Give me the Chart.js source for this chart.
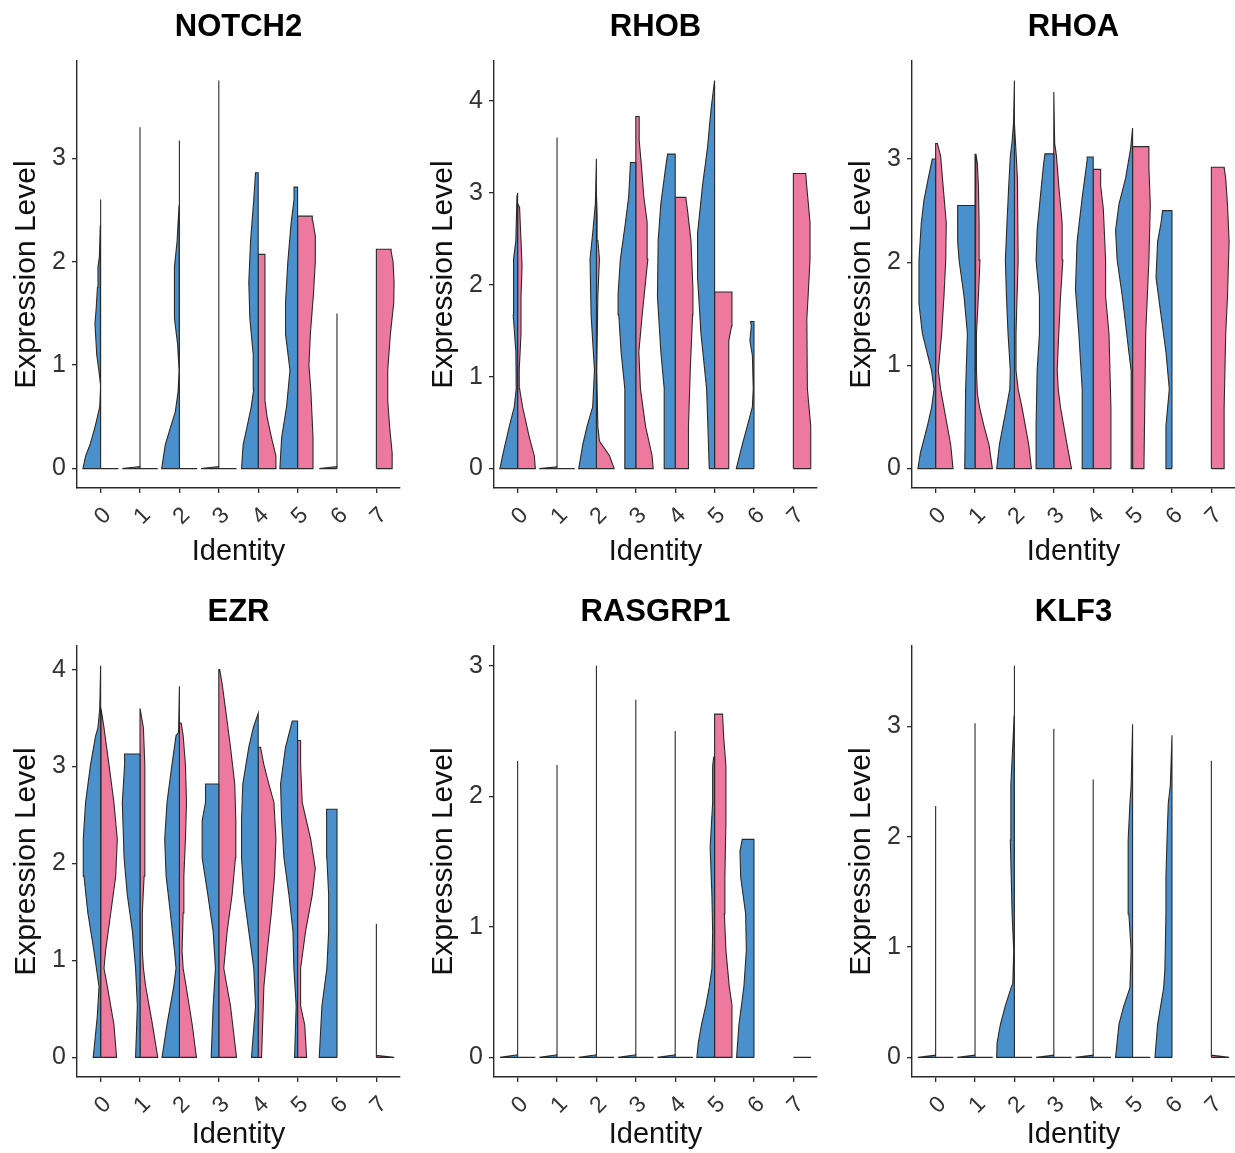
<!DOCTYPE html>
<html>
<head>
<meta charset="utf-8">
<script src="https://cdn.jsdelivr.net/npm/chart.js@4.4.1/dist/chart.umd.min.js"></script>
<style>
  body { margin: 0; background: #fff; width: 1235px; height: 1153px; overflow: hidden; position: relative; }
  canvas { position: absolute; }
</style>
</head>
<body>
<script>
const genes = ["NOTCH2", "RHOB", "RHOA", "EZR", "RASGRP1", "KLF3"];
const identities = ["0", "1", "2", "3", "4", "5", "6", "7"];

// each half violin: [expression level, relative density width]; null = no cells
const notch2Blue = [
  [[0,1],[0.12,0.85],[0.23,0.6],[0.4,0.32],[0.5,0.18],[0.6,0.05],[0.8,0],[0.95,0.1],[1.1,0.22],[1.4,0.32],[1.55,0.25],[1.75,0.18],[1.95,0.15],[2.05,0.07],[2.35,0.02],[2.6,0]],
  [[0,1],[0.02,0],[3.3,0]],
  [[0,1],[0.23,0.8],[0.4,0.5],[0.55,0.23],[0.75,0.07],[0.95,0.02],[1.2,0.1],[1.45,0.28],[1.95,0.28],[2.2,0.13],[2.55,0.02],[3.17,0]],
  [[0,1],[0.02,0],[3.75,0]],
  [[0,0.94],[0.23,0.85],[0.41,0.62],[0.59,0.4],[0.77,0.25],[1.1,0.28],[1.45,0.47],[1.8,0.53],[2.2,0.43],[2.6,0.25],[2.86,0.15]],
  [[0,1],[0.3,0.9],[0.6,0.62],[0.95,0.43],[1.3,0.68],[1.6,0.68],[2.0,0.55],[2.38,0.36],[2.6,0.2],[2.72,0.2]],
  [[0,1],[0.02,0],[1.5,0]],
  null
];
const notch2Pink = [
  [[0,1]],
  [[0,1]],
  [[0,1]],
  [[0,1]],
  [[0,1],[0.12,1],[0.3,0.75],[0.5,0.5],[0.66,0.38],[2.07,0.38]],
  [[0,0.87],[0.3,0.87],[0.75,0.75],[1.0,0.64],[1.3,0.72],[1.7,0.9],[2.0,1.0],[2.25,1.0],[2.4,0.85],[2.44,0.83]],
  null,
  [[0,0.89],[0.15,0.89],[0.4,0.75],[0.66,0.64],[0.95,0.64],[1.3,0.79],[1.6,0.98],[1.8,1.0],[2.0,0.94],[2.1,0.83],[2.12,0.83]]
];

const rhobBlue = [
  [[0,1],[0.14,0.85],[0.46,0.47],[0.67,0.19],[0.87,0.08],[1.27,0.1],[1.67,0.25],[2.28,0.23],[2.48,0.1],[2.96,0.04],[3.0,0]],
  [[0,1],[0.02,0],[3.6,0]],
  [[0,1],[0.26,0.77],[0.46,0.53],[0.67,0.21],[1.07,0.11],[1.67,0.3],[2.28,0.36],[2.56,0.21],[2.88,0.06],[3.37,0]],
  [[0,0.62],[0.87,0.62],[1.27,0.83],[1.67,0.96],[1.9,1.0],[2.28,0.87],[2.68,0.58],[2.96,0.4],[3.33,0.3]],
  [[0,0.58],[0.87,0.62],[1.27,0.81],[1.87,1.0],[2.48,0.96],[2.88,0.81],[3.29,0.53],[3.42,0.43]],
  [[0,0.3],[0.87,0.45],[1.47,0.77],[2.08,0.96],[2.56,0.96],[3.08,0.68],[3.49,0.4],[3.89,0.21],[4.05,0.11],[4.22,0]],
  [[0,1],[0.26,0.66],[0.46,0.38],[0.67,0.09],[0.87,0.04],[1.23,0.09],[1.39,0.23],[1.55,0.15],[1.6,0.19]],
  null
];
const rhobPink = [
  [[0,1],[0.14,0.94],[0.34,0.66],[0.67,0.28],[0.87,0.11],[1.07,0.09],[1.47,0.19],[1.87,0.19],[2.2,0.25],[2.48,0.19],[2.84,0.11],[2.88,0]],
  [[0,1]],
  [[0,1],[0.14,0.74],[0.3,0.17],[0.46,0.08],[1.07,0.02],[1.87,0.08],[2.28,0.17],[2.48,0.08],[2.76,0.04],[3.0,0]],
  [[0,0.98],[0.14,0.92],[0.46,0.55],[0.87,0.26],[1.27,0.17],[1.67,0.36],[2.28,0.68],[2.68,0.64],[2.96,0.45],[3.29,0.32],[3.57,0.19],[3.83,0.19]],
  [[0,0.75],[0.46,0.75],[1.07,0.85],[1.67,0.98],[1.96,1.0],[2.48,0.89],[2.8,0.7],[2.95,0.6]],
  [[0,0.77],[1.39,0.8],[1.55,0.96],[1.92,0.98]],
  null,
  [[0,0.98],[0.46,0.98],[0.87,0.79],[1.63,0.76],[1.87,0.83],[2.28,0.94],[2.68,0.94],[3.08,0.75],[3.21,0.7]]
];

const rhoaBlue = [
  [[0,1],[0.16,0.85],[0.41,0.47],[0.59,0.23],[0.77,0.09],[0.95,0.23],[1.31,0.75],[1.6,0.94],[2.02,0.94],[2.38,0.81],[2.6,0.66],[2.81,0.42],[3.0,0.19]],
  [[0,0.58],[0.77,0.53],[1.31,0.43],[1.67,0.62],[2.02,0.9],[2.2,0.98],[2.55,0.98]],
  [[0,1],[0.23,0.85],[0.59,0.45],[0.77,0.26],[0.95,0.23],[1.31,0.36],[1.67,0.45],[2.02,0.51],[2.38,0.42],[2.74,0.32],[3.03,0.23],[3.17,0.13],[3.35,0.05],[3.76,0]],
  [[0,1],[0.41,1],[0.95,0.94],[1.31,0.81],[1.67,0.81],[2.02,1.0],[2.31,0.94],[2.74,0.7],[2.96,0.57],[3.05,0.5]],
  [[0,0.62],[0.77,0.62],[1.31,0.81],[1.74,1.0],[2.2,0.91],[2.63,0.62],[2.99,0.34],[3.02,0.34]],
  [[0,0.08],[0.95,0.08],[1.13,0.21],[1.67,0.58],[2.02,0.87],[2.31,0.96],[2.56,0.77],[2.81,0.4],[3.1,0.11],[3.3,0]],
  [[0,0.34],[0.41,0.34],[0.77,0.15],[1.13,0.34],[1.49,0.62],[1.85,0.9],[2.2,0.81],[2.38,0.62],[2.5,0.53]],
  null
];
const rhoaPink = [
  [[0,0.98],[0.23,0.85],[0.59,0.47],[0.77,0.28],[0.95,0.15],[1.31,0.34],[1.67,0.47],[2.02,0.57],[2.38,0.6],[2.74,0.42],[3.03,0.28],[3.15,0.1]],
  [[0,0.98],[0.23,0.79],[0.41,0.51],[0.59,0.26],[0.73,0.13],[0.95,0.08],[1.31,0.08],[1.67,0.19],[2.02,0.28],[2.38,0.23],[2.74,0.19],[2.96,0.13],[3.05,0.05]],
  [[0,0.96],[0.23,0.81],[0.59,0.43],[0.77,0.21],[0.95,0.09],[1.31,0.09],[1.67,0.15],[2.02,0.21],[2.81,0.17],[3.1,0.08],[3.35,0]],
  [[0,1],[0.23,0.75],[0.59,0.38],[0.77,0.25],[0.95,0.19],[1.31,0.28],[1.67,0.38],[2.02,0.51],[2.38,0.47],[2.74,0.28],[3.03,0.15],[3.15,0.05],[3.65,0]],
  [[0,1],[0.59,1],[1.31,0.89],[1.67,0.7],[2.02,0.7],[2.52,0.57],[2.74,0.42],[2.9,0.42]],
  [[0,0.64],[1.31,0.74],[2.02,0.92],[2.56,1.0],[2.92,0.92],[3.12,0.92]],
  null,
  [[0,0.72],[0.59,0.72],[1.31,0.81],[1.67,0.91],[2.2,1.0],[2.56,0.91],[2.81,0.81],[2.92,0.72]]
];

const ezrBlue = [
  [[0,0.42],[0.42,0.19],[0.73,0.09],[1.1,0.38],[1.49,0.72],[1.87,0.94],[2.25,0.98],[2.63,0.85],[3.02,0.57],[3.32,0.28],[3.4,0.15],[3.6,0.05],[4.04,0]],
  [[0,0.25],[0.53,0.15],[0.92,0.25],[1.3,0.43],[1.68,0.72],[2.06,0.9],[2.63,1.0],[3.02,0.87],[3.13,0.87]],
  [[0,0.98],[0.34,0.7],[0.73,0.32],[0.92,0.19],[1.1,0.28],[1.49,0.51],[1.87,0.75],[2.25,0.83],[2.63,0.7],[3.02,0.42],[3.32,0.19],[3.35,0.05],[3.83,0]],
  [[0,0.43],[0.53,0.32],[0.92,0.19],[1.3,0.32],[1.68,0.62],[2.06,0.94],[2.44,0.94],[2.63,0.75],[2.82,0.75]],
  [[0,0.38],[0.53,0.15],[0.92,0.25],[1.3,0.53],[1.68,0.81],[2.06,0.94],[2.44,0.94],[2.82,0.87],[3.2,0.53],[3.4,0.28],[3.55,0]],
  [[0,0.17],[0.53,0.08],[0.92,0.21],[1.3,0.26],[1.68,0.49],[2.06,0.77],[2.44,0.9],[2.82,0.96],[3.2,0.68],[3.47,0.3]],
  [[0,1],[0.53,0.85],[0.92,0.57],[1.3,0.47],[1.68,0.47],[2.06,0.57],[2.4,0.6],[2.56,0.57]],
  null
];
const ezrPink = [
  [[0,0.9],[0.34,0.75],[0.73,0.38],[0.92,0.19],[1.1,0.28],[1.49,0.57],[1.87,0.85],[2.25,0.94],[2.63,0.75],[3.02,0.47],[3.4,0.19],[3.6,0.02]],
  [[0,1],[0.34,0.7],[0.73,0.32],[0.92,0.19],[1.1,0.13],[1.49,0.13],[1.87,0.23],[2.25,0.28],[3.02,0.26],[3.4,0.19],[3.6,0]],
  [[0,0.96],[0.34,0.72],[0.73,0.38],[0.92,0.21],[1.1,0.15],[1.49,0.21],[1.87,0.25],[2.25,0.34],[2.63,0.4],[3.02,0.34],[3.32,0.21],[3.45,0.1]],
  [[0,1],[0.53,0.66],[0.92,0.28],[1.3,0.47],[1.68,0.75],[2.06,0.94],[2.44,0.96],[2.82,0.9],[3.2,0.66],[3.59,0.38],[3.85,0.19],[4.0,0.05]],
  [[0,0.19],[0.73,0.32],[1.1,0.51],[1.49,0.74],[1.87,0.92],[2.25,1.0],[2.63,0.89],[2.82,0.6],[3.02,0.32],[3.2,0.13]],
  [[0,0.51],[0.34,0.4],[0.53,0.17],[0.92,0.17],[1.3,0.45],[1.68,0.83],[1.95,1.0],[2.25,0.74],[2.63,0.26],[3.02,0.17],[3.27,0.17]],
  null,
  [[0,1],[0.02,0],[1.38,0]]
];

const rasgrp1Blue = [
  [[0,1],[0.02,0],[2.27,0]],
  [[0,1],[0.02,0],[2.24,0]],
  [[0,1],[0.02,0],[3.0,0]],
  [[0,1],[0.02,0],[2.74,0]],
  [[0,1],[0.02,0],[2.5,0]],
  [[0,1],[0.11,0.92],[0.25,0.74],[0.4,0.49],[0.54,0.3],[0.68,0.15],[0.96,0.11],[1.24,0.15],[1.61,0.25],[1.95,0.11],[2.23,0.11],[2.3,0.05]],
  [[0,0.98],[0.25,0.85],[0.54,0.57],[0.82,0.43],[1.1,0.47],[1.38,0.75],[1.58,0.79],[1.67,0.66]],
  null
];
const rasgrp1Pink = [
  [[0,1]],
  [[0,1]],
  [[0,1]],
  [[0,1]],
  [[0,1]],
  [[0,0.98],[0.4,0.98],[0.54,0.83],[0.82,0.64],[1.1,0.55],[1.38,0.58],[1.81,0.64],[2.23,0.64],[2.46,0.51],[2.63,0.45]],
  null,
  [[0,1]]
];

const klf3Blue = [
  [[0,1],[0.02,0],[2.28,0]],
  [[0,1],[0.02,0],[3.03,0]],
  [[0,1],[0.13,0.98],[0.3,0.79],[0.47,0.51],[0.63,0.19],[0.67,0.09],[0.97,0.04],[1.3,0.13],[1.97,0.23],[2.47,0.2],[2.97,0.05],[3.1,0.02],[3.55,0]],
  [[0,1],[0.02,0],[2.98,0]],
  [[0,1],[0.02,0],[2.52,0]],
  [[0,0.96],[0.3,0.77],[0.47,0.49],[0.63,0.15],[0.97,0.08],[1.3,0.21],[1.97,0.25],[2.3,0.15],[2.47,0.08],[3.02,0]],
  [[0,0.96],[0.3,0.81],[0.63,0.47],[0.8,0.4],[1.3,0.34],[1.64,0.34],[1.97,0.28],[2.3,0.21],[2.47,0.09],[2.92,0]],
  null
];
const klf3Pink = [
  [[0,1]],
  [[0,1]],
  [[0,1]],
  [[0,1]],
  [[0,1]],
  [[0,1]],
  null,
  [[0,1],[0.02,0],[2.69,0]]
];

const BLUE = "#4a90cd";
const PINK = "#ee799f";
const FONT = "'Liberation Sans', Arial, sans-serif";
const HALF = 0.45; // half-violin max width in category units

const panels = [
  { blue: notch2Blue, pink: notch2Pink, left: 0, top: 0, height: 578, xh: 90, xpad: 9 },
  { blue: rhobBlue, pink: rhobPink, left: 417, top: 0, height: 578, xh: 90, xpad: 9 },
  { blue: rhoaBlue, pink: rhoaPink, left: 835, top: 0, height: 578, xh: 90, xpad: 9 },
  { blue: ezrBlue, pink: ezrPink, left: 0, top: 585, height: 568, xh: 76, xpad: 1 },
  { blue: rasgrp1Blue, pink: rasgrp1Pink, left: 417, top: 585, height: 568, xh: 76, xpad: 1 },
  { blue: klf3Blue, pink: klf3Pink, left: 835, top: 585, height: 568, xh: 76, xpad: 1 }
];

// outline of one half: out along the density edge, back down the centre line
function halfViolin(center, side, profile) {
  const pts = [{ x: center, y: profile[0][0] }];
  profile.forEach(([y, w]) => pts.push({ x: center + side * w * HALF, y: y }));
  const top = profile[profile.length - 1][0];
  pts.push({ x: center, y: top });
  pts.push({ x: center, y: profile[0][0] });
  return pts;
}

panels.forEach((p, k) => {
  const canvas = document.createElement("canvas");
  canvas.width = 477;
  canvas.height = p.height;
  canvas.style.left = p.left + "px";
  canvas.style.top = p.top + "px";
  document.body.appendChild(canvas);

  const datasets = [];
  let ymax = 0;
  identities.forEach((id, i) => {
    [[p.blue[i], -1, BLUE], [p.pink[i], 1, PINK]].forEach(([prof, side, col]) => {
      if (!prof) return;
      prof.forEach(([y]) => { ymax = Math.max(ymax, y); });
      datasets.push({
        data: halfViolin(i, side, prof),
        showLine: true,
        fill: "shape",
        backgroundColor: col,
        borderColor: "#2a2a2a",
        borderWidth: 1.1,
        pointRadius: 0,
        tension: 0
      });
    });
  });

  const yTicks = [];
  for (let t = 0; t <= ymax * 1.05; t++) yTicks.push(t);

  new Chart(canvas, {
    type: "scatter",
    data: { datasets: datasets },
    options: {
      responsive: false,
      animation: false,
      layout: { padding: { left: 0, right: 77, top: 0, bottom: 0 } },
      plugins: {
        legend: { display: false },
        tooltip: { enabled: false },
        title: {
          display: true,
          fullSize: false,
          text: genes[k],
          color: "#000",
          font: { family: FONT, size: 31, weight: "bold" },
          padding: { top: 9, bottom: 15 }
        }
      },
      scales: {
        x: {
          type: "linear",
          min: -0.6,
          max: 7.6,
          afterBuildTicks: ax => { ax.ticks = identities.map((_, i) => ({ value: i })); },
          afterFit: ax => { ax.height = p.xh; },
          ticks: {
            callback: v => identities[v],
            minRotation: 45,
            maxRotation: 45,
            autoSkip: false,
            color: "#333",
            padding: 9,
            labelOffset: 7,
            font: { family: FONT, size: 23 }
          },
          grid: { display: true, drawOnChartArea: false, tickLength: 5, color: "#2a2a2a", lineWidth: 1.3 },
          border: { display: true, color: "#2a2a2a", width: 1.4 },
          title: {
            display: true,
            text: "Identity",
            color: "#111",
            font: { family: FONT, size: 29 },
            padding: { top: 0, bottom: p.xpad }
          }
        },
        y: {
          min: -0.05 * ymax,
          max: 1.05 * ymax,
          afterBuildTicks: ax => { ax.ticks = yTicks.map(v => ({ value: v })); },
          afterFit: ax => { ax.width = 77; },
          ticks: {
            callback: v => String(v),
            color: "#333",
            padding: 6,
            font: { family: FONT, size: 25 }
          },
          grid: { display: true, drawOnChartArea: false, tickLength: 5, color: "#2a2a2a", lineWidth: 1.3 },
          border: { display: true, color: "#2a2a2a", width: 1.4 },
          title: {
            display: true,
            text: "Expression Level",
            color: "#111",
            font: { family: FONT, size: 30 },
            padding: { top: 9, bottom: 0 }
          }
        }
      }
    }
  });
});
</script>
</body>
</html>
